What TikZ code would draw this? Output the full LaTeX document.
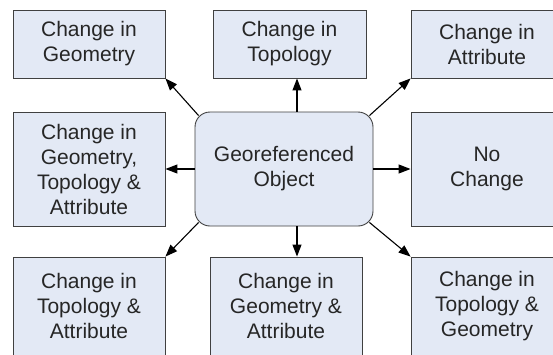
\documentclass[tikz,border=0pt]{standalone}
\usepackage{fontspec}
\setmainfont{Liberation Sans}
\usetikzlibrary{arrows.meta}
\definecolor{boxfill}{RGB}{227,233,245}
\definecolor{boxline}{RGB}{64,64,64}
\tikzset{
  change/.style={draw=boxline, fill=boxfill, line width=0.9pt, align=center,
    inner sep=0pt, text=black!85, font=\fontsize{21}{25}\selectfont},
  arr/.style={-{Triangle[length=12pt,width=9pt]}, line width=1.1pt}
}
\begin{document}
\begin{tikzpicture}[x=1pt,y=-1pt]
\clip (0,0) rectangle (553,354);
\fill[white] (0,0) rectangle (553,354);
% top row
\node[change, minimum width=152, minimum height=68] (tl) at (89,44) {Change in\\Geometry};
\node[change, minimum width=153, minimum height=68] (tm) at (289.5,44) {Change in\\Topology};
\node[change, minimum width=152, minimum height=68] (tr) at (487,44) {Change in\\Attribute};
% middle row
\node[change, minimum width=152, minimum height=114] (ml) at (89,169) {Change in\\Geometry,\\Topology \&\\Attribute};
\node[change, minimum width=178, minimum height=114, rounded corners=15] (obj) at (284,169) {Georeferenced\\Object};
\node[change, minimum width=152, minimum height=114] (mr) at (487,169) {No\\Change};
% bottom row
\node[change, minimum width=152, minimum height=98] (bl) at (89,306) {Change in\\Topology \&\\Attribute};
\node[change, minimum width=152, minimum height=98] (bm) at (286,306) {Change in\\Geometry \&\\Attribute};
\node[change, minimum width=152, minimum height=98] (br) at (487,306) {Change in\\Topology \&\\Geometry};
% arrows
\draw[arr] ([shift={(4,4)}]obj.north west) -- (tl.south east);
\draw[arr] ([xshift=13]obj.north) -- ([xshift=13]obj.north |- tm.south);
\draw[arr] ([shift={(-4,4)}]obj.north east) -- (tr.south west);
\draw[arr] (obj.west) -- (ml.east);
\draw[arr] (obj.east) -- (mr.west);
\draw[arr] ([shift={(4,-4)}]obj.south west) -- (bl.north east);
\draw[arr] ([xshift=13]obj.south) -- ([xshift=13]obj.south |- bm.north);
\draw[arr] ([shift={(-4,-4)}]obj.south east) -- (br.north west);
\end{tikzpicture}
\end{document}
